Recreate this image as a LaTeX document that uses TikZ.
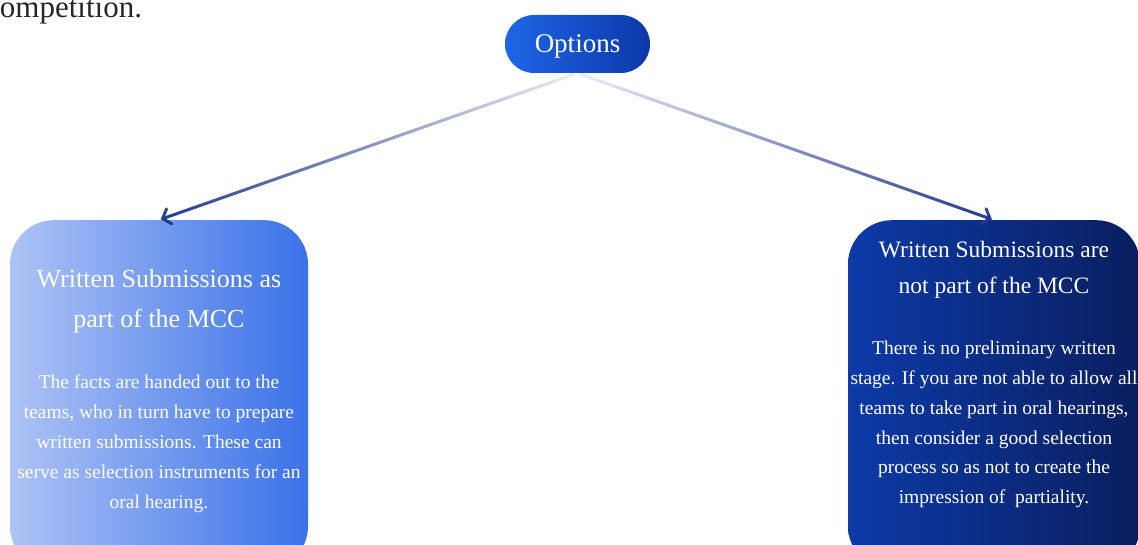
\documentclass[tikz,border=0pt]{standalone}
\usepackage{fontspec}
\setmainfont{Liberation Serif}
\usetikzlibrary{positioning, arrows.meta, fadings}

\definecolor{optleft}{RGB}{30,102,232}
\definecolor{optright}{RGB}{12,56,168}
\definecolor{lboxleft}{RGB}{174,195,245}
\definecolor{lboxright}{RGB}{58,114,232}
\definecolor{rboxleft}{RGB}{12,58,168}
\definecolor{rboxright}{RGB}{10,30,94}
\definecolor{arrowblue}{RGB}{30,58,138}

\tikzfading[name=arrowfade, top color=transparent!92, bottom color=transparent!0]

\begin{document}
\begin{tikzpicture}[x=1pt,y=-1pt,
  optbox/.style={rounded corners=29pt, minimum width=145pt, minimum height=58pt,
    inner sep=0pt, left color=optleft, right color=optright, text=white,
    text height=22pt, font=\fontsize{27}{32}\selectfont},
  choicebox/.style={rounded corners=44pt, minimum height=350pt, inner sep=0pt, anchor=north},
  titletext/.style={anchor=north, align=center, inner sep=0pt, text=white},
  bodytext/.style={anchor=north, align=center, inner sep=0pt, text=white,
    font=\fontsize{19.5}{29.8}\selectfont},
  arrowline/.style={draw=arrowblue, line width=3pt, shorten <=3pt, shorten >=2pt,
    -{Straight Barb[length=7pt, width=16pt, line cap=round]},
    path fading=arrowfade}]
  \useasboundingbox (0,0) rectangle (1138,545);

  % tail of the paragraph above
  \node[anchor=base west, inner sep=0pt, text=black!85,
    font=\fontsize{31}{36}\selectfont] (prev) at (-14,18) {competition.};

  \node[optbox] (opt) at (577.5,44) {Options};

  \node[choicebox, minimum width=298pt, left color=lboxleft, right color=lboxright]
    (lbox) at (159,220) {};
  \node[choicebox, minimum width=292pt, left color=rboxleft, right color=rboxright]
    (rbox) at (994,220) {};

  \node[titletext, font=\fontsize{26}{40}\selectfont] (ltitle) at (159,269)
    {Written Submissions as\\part of the MCC};
  \node[bodytext] (lbody) at (159,375)
    {The facts are handed out to the\\teams, who in turn have to prepare\\
     written submissions. These can\\serve as selection instruments for an\\oral hearing.};

  \node[titletext, font=\fontsize{23.5}{35.5}\selectfont] (rtitle) at (994,241)
    {Written Submissions are\\not part of the MCC};
  \node[bodytext] (rbody) at (994,341)
    {There is no preliminary written\\stage. If you are not able to allow all\\
     teams to take part in oral hearings,\\then consider a good selection\\
     process so as not to create the\\impression of~ partiality.};

  \path (opt.south) edge[arrowline] (lbox.north)
        (opt.south) edge[arrowline] (rbox.north);
\end{tikzpicture}
\end{document}
